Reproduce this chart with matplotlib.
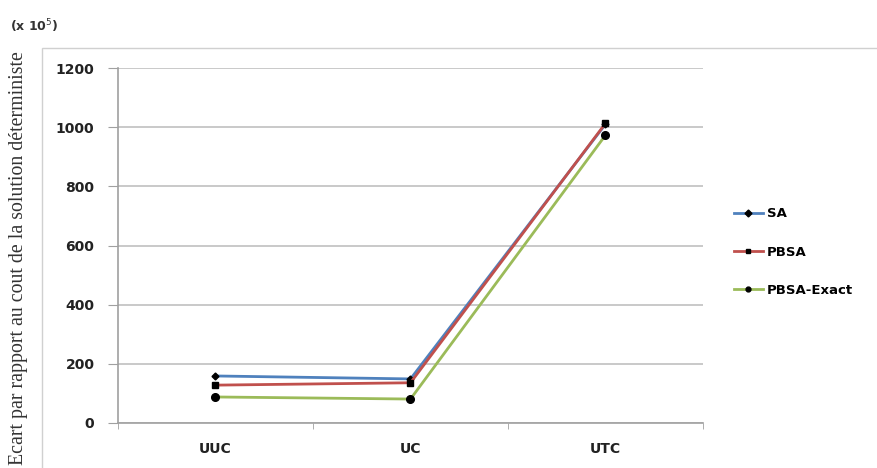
import matplotlib.pyplot as plt
from matplotlib.patches import Rectangle

categories = ["UUC", "UC", "UTC"]
sa = [159, 149, 1010]
pbsa = [128, 136, 1013]
pbsa_exact = [88, 81, 973]
yticks = [0, 200, 400, 600, 800, 1000, 1200]

fig = plt.figure(figsize=(8.78, 4.68), dpi=100)
W, H = 878, 468
ax = fig.add_axes([118 / W, 1 - 423 / H, (703 - 118) / W, (423 - 68) / H])

# outer chart border (light gray)
fig.patches.append(Rectangle((42 / W, -0.01), 1.0, 1 - 48 / H + 0.01,
                             transform=fig.transFigure, fill=False,
                             edgecolor="#d0d0d0", linewidth=1.0))

x = [0.5, 1.5, 2.5]
ax.plot(x, sa, color="#4F81BD", lw=2, marker="D", ms=3.5, mfc="black", mec="black", label="SA")
ax.plot(x, pbsa, color="#C0504D", lw=2, marker="s", ms=4, mfc="black", mec="black", label="PBSA")
ax.plot(x, pbsa_exact, color="#9BBB59", lw=2, marker="o", ms=5.5, mfc="black", mec="black", label="PBSA-Exact")

ax.set_xlim(0, 3)
ax.set_ylim(0, 1200)
ax.set_yticks(yticks)
ax.set_yticklabels([str(v) for v in yticks], fontweight="bold", fontsize=10, color="#222222")
ax.set_xticks(x)
ax.set_xticklabels(categories, fontweight="bold", fontsize=10, color="#222222")
ax.set_xticks([0, 1, 2, 3], minor=True)
ax.tick_params(axis="x", which="major", length=0, pad=14)
ax.tick_params(axis="x", which="minor", length=4, color="#a0a0a0")
ax.tick_params(axis="y", length=7, color="#a0a0a0", pad=10)
ax.yaxis.grid(True, color="#c0c0c0", lw=1.2)
ax.set_axisbelow(True)
for s in ["top", "right"]:
    ax.spines[s].set_visible(False)
for s in ["left", "bottom"]:
    ax.spines[s].set_color("#a0a0a0")
    ax.spines[s].set_linewidth(1.2)

fig.text(10 / W, 1 - 26 / H, "(x 10$^5$)", fontsize=9, fontweight="bold", color="#333333", va="center")
fig.text(19 / W, 1 - 258 / H, "Ecart par rapport au cout de la solution déterministe",
         family="Liberation Serif", fontsize=14.3, rotation=90, va="center", ha="center", color="#333333")

leg = ax.legend(loc="center left", bbox_to_anchor=(722 / W, 1 - 252 / H), bbox_transform=fig.transFigure,
                frameon=False, handlelength=2.2, handletextpad=0.3, labelspacing=1.9,
                prop={"weight": "bold", "size": 9.5})
for h in leg.legend_handles:
    h.set_markersize(3.5)

fig.savefig("out.png", dpi=100)
